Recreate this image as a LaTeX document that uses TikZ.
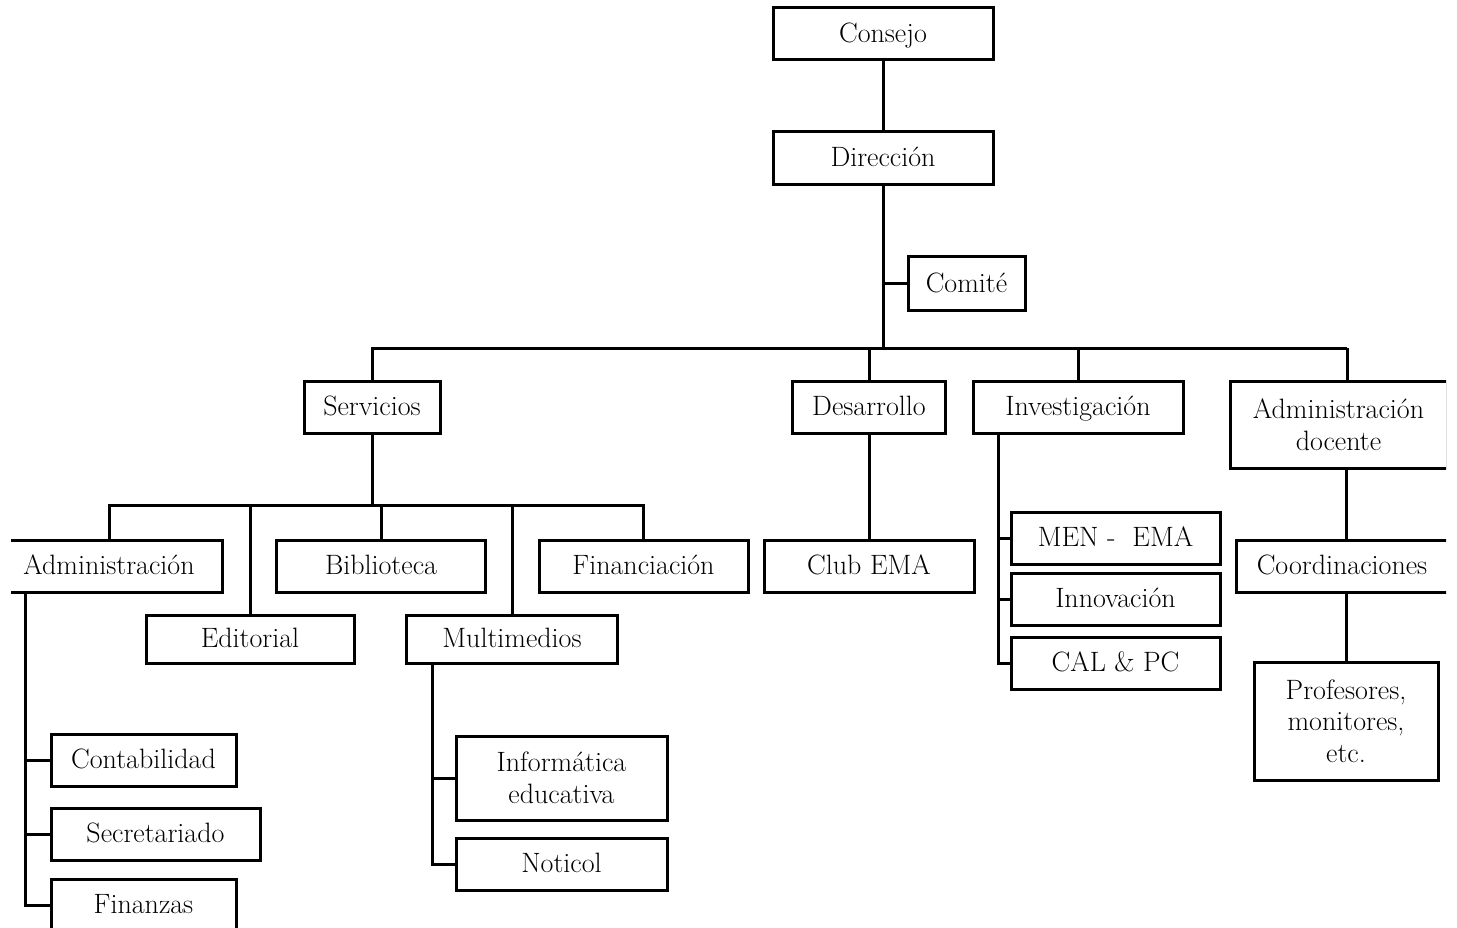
\documentclass[tikz,border=0pt]{standalone}
\begin{document}
\begin{tikzpicture}[x=1pt,y=-1pt,
  bx/.style={draw, line width=3pt, fill=white, inner sep=0pt,
    font=\fontsize{28}{32}\selectfont, text height=21.5pt, text depth=4.5pt},
  bxm/.style={draw, line width=3pt, fill=white, inner sep=0pt,
    font=\fontsize{28}{31.5}\selectfont, align=center},
  ln/.style={line width=3pt}]
\useasboundingbox (0,0) rectangle (1457,928);
\clip (11,0) rectangle (1446,927);
% coordinates of buses
\coordinate (bus1) at (883,348);
\coordinate (busR) at (1347,348);
\coordinate (bus2) at (372,505);
\coordinate (admv) at (25,592);
\coordinate (mv) at (432,663);
\coordinate (iv) at (998,433);
% nodes
\node[bx, minimum width=220pt, minimum height=52pt] (con) at (883,34) {Consejo};
\node[bx, minimum width=220pt, minimum height=53pt] (dir) at (883,158.5) {Dirección};
\node[bx, minimum width=117pt, minimum height=53pt] (com) at (966.5,283.5) {Comité};
\node[bx, minimum width=136pt, minimum height=52pt] (serv) at (372,407) {Servicios};
\node[bx, minimum width=153pt, minimum height=52pt] (des) at (869,407) {Desarrollo};
\node[bx, minimum width=210pt, minimum height=52pt] (inv) at (1078,407) {Investigación};
\node[bxm, minimum width=217pt, minimum height=87pt] (adoc) at (1338.5,424.5) {Administración\\docente};
\node[bx, minimum width=212pt, minimum height=52pt] (coord) at (1342,566) {Coordinaciones};
\node[bxm, minimum width=184pt, minimum height=118pt] (prof) at (1346,721) {Profesores,\\monitores,\\etc.};
\node[bx, minimum width=226pt, minimum height=52pt] (adm) at (109,566) {Administración};
\node[bx, minimum width=208pt, minimum height=48pt] (edit) at (250,639) {Editorial};
\node[bx, minimum width=209pt, minimum height=52pt] (bib) at (381,566) {Biblioteca};
\node[bx, minimum width=211pt, minimum height=48pt] (mult) at (512,639) {Multimedios};
\node[bx, minimum width=209pt, minimum height=52pt] (fin) at (643.5,566) {Financiación};
\node[bx, minimum width=210pt, minimum height=52pt] (club) at (869,566) {Club EMA};
\node[bx, minimum width=209pt, minimum height=52pt] (men) at (1115.5,538) {MEN -\ \ EMA};
\node[bx, minimum width=209pt, minimum height=52pt] (inn) at (1115.5,599) {Innovación};
\node[bx, minimum width=209pt, minimum height=52pt] (cal) at (1115.5,663) {CAL \& PC};
\node[bx, minimum width=185pt, minimum height=52pt] (cont) at (143.5,760) {Contabilidad};
\node[bx, minimum width=209pt, minimum height=52pt] (sec) at (155.5,834) {Secretariado};
\node[bx, minimum width=185pt, minimum height=52pt] (fnz) at (143.5,905) {Finanzas};
\node[bxm, minimum width=211pt, minimum height=84pt] (info) at (561.5,778) {Informática\\educativa};
\node[bx, minimum width=211pt, minimum height=52pt] (noti) at (561.5,864) {Noticol};
% connectors
\draw[ln] (con.south) -- (dir.north);
\draw[ln] (dir.south) -- (bus1);
\draw[ln] (dir.south |- com.west) -- (com.west);
\draw[ln] (serv.north) |- (busR);
\draw[ln] (busR) -- (busR |- adoc.north);
\draw[ln] (des.north) -- (des.north |- bus1);
\draw[ln] (inv.north) -- (inv.north |- bus1);
\draw[ln] (serv.south) -- (bus2);
\draw[ln] (adm.north) |- (bus2) -| (fin.north);
\draw[ln] (edit.north) -- (edit.north |- bus2);
\draw[ln] (bib.north) -- (bib.north |- bus2);
\draw[ln] (mult.north) -- (mult.north |- bus2);
\draw[ln] (des.south) -- (club.north);
\draw[ln] (prof.north |- adoc.south) -- (prof.north |- coord.north);
\draw[ln] (prof.north |- coord.south) -- (prof.north);
\draw[ln] (admv) |- (fnz.west);
\draw[ln] (admv |- cont.west) -- (cont.west);
\draw[ln] (admv |- sec.west) -- (sec.west);
\draw[ln] (mv) |- (noti.west);
\draw[ln] (mv |- info.west) -- (info.west);
\draw[ln] (iv) |- (cal.west);
\draw[ln] (iv |- men.west) -- (men.west);
\draw[ln] (iv |- inn.west) -- (inn.west);
\end{tikzpicture}
\end{document}
